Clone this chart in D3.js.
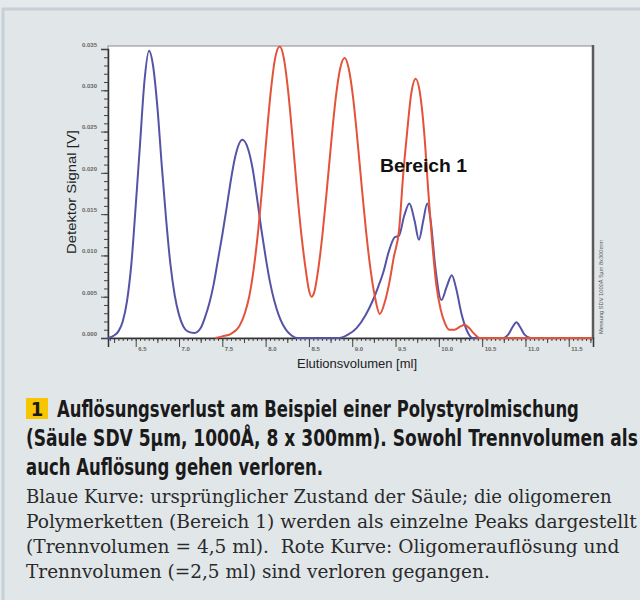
<!DOCTYPE html>
<html>
<head>
<meta charset="utf-8">
<script src="https://cdn.jsdelivr.net/npm/d3@7"></script>
<style>
body { margin: 0; background: #e4e9ec; }
svg { display: block; }
</style>
</head>
<body>
<svg width="640" height="600"></svg>
<script>
// values (elution volume in ml, detector signal in V)
let blueVol = [6.18, 6.25, 6.30, 6.35, 6.40, 6.45, 6.50, 6.55, 6.60, 6.654, 6.70, 6.75, 6.80, 6.85, 6.90, 6.95,
    7.00, 7.05, 7.10, 7.18, 7.25, 7.30, 7.35, 7.40, 7.45, 7.50, 7.55, 7.60, 7.65, 7.732, 7.80, 7.85, 7.90, 7.95,
    8.00, 8.05, 8.10, 8.15, 8.20, 8.25, 8.30, 8.36, 8.85, 8.95, 9.05, 9.15, 9.24, 9.30, 9.36, 9.42, 9.49, 9.54,
    9.60, 9.66, 9.72, 9.77, 9.82, 9.866, 9.91, 9.96, 10.03, 10.09, 10.15, 10.20, 10.26, 10.32, 10.39, 10.75,
    10.80, 10.85, 10.896, 10.94, 10.99, 11.06, 11.78];
let blueSig = [0.0000, 0.0003, 0.0008, 0.0020, 0.0045, 0.0090, 0.0160, 0.0235, 0.0310, 0.0348, 0.0330, 0.0280, 0.0210, 0.0145, 0.0090, 0.0052,
    0.0028, 0.0014, 0.0008, 0.0006, 0.0012, 0.0025, 0.0042, 0.0065, 0.0095, 0.0125, 0.0158, 0.0192, 0.0220, 0.0240, 0.0228, 0.0205, 0.0170, 0.0132,
    0.0098, 0.0068, 0.0045, 0.0028, 0.0016, 0.0008, 0.0003, 0.0000, 0.0000, 0.0004, 0.0012, 0.0027, 0.0046, 0.0062, 0.0080, 0.0104, 0.0122, 0.0124,
    0.0148, 0.0163, 0.0142, 0.0119, 0.0142, 0.0163, 0.0138, 0.0085, 0.0046, 0.0062, 0.0076, 0.0060, 0.0030, 0.0010, 0.0000, 0.0000,
    0.0004, 0.0013, 0.0019, 0.0013, 0.0004, 0.0000, 0.0000];

let redVol = [7.42, 7.50, 7.60, 7.70, 7.76, 7.81, 7.86, 7.91, 7.96, 8.01, 8.06, 8.11, 8.163, 8.21, 8.26, 8.31, 8.36,
    8.41, 8.46, 8.50, 8.53, 8.56, 8.61, 8.66, 8.71, 8.76, 8.81, 8.86, 8.913, 8.96, 9.01, 9.06, 9.11, 9.16, 9.21,
    9.26, 9.318, 9.38, 9.43, 9.48, 9.54, 9.59, 9.63, 9.68, 9.733, 9.78, 9.83, 9.88, 9.92, 9.97, 10.02, 10.07,
    10.12, 10.18, 10.25, 10.30, 10.35, 10.41, 10.47, 11.77];
let redSig = [0.0000, 0.0002, 0.0005, 0.0015, 0.0030, 0.0050, 0.0082, 0.0126, 0.0182, 0.0243, 0.0299, 0.0339, 0.0353, 0.0339, 0.0299, 0.0243, 0.0182,
    0.0128, 0.0085, 0.0058, 0.0050, 0.0055, 0.0085, 0.0129, 0.0183, 0.0240, 0.0291, 0.0326, 0.0339, 0.0326, 0.0291, 0.0240, 0.0183, 0.0129, 0.0084,
    0.0051, 0.0029, 0.0045, 0.0068, 0.0098, 0.0130, 0.0200, 0.0245, 0.0295, 0.0314, 0.0298, 0.0250, 0.0175, 0.0120, 0.0065, 0.0035, 0.0018,
    0.0010, 0.0010, 0.0014, 0.0016, 0.0012, 0.0005, 0.0000, 0.0000];

let xTicks = [6.5, 7.0, 7.5, 8.0, 8.5, 9.0, 9.5, 10.0, 10.5, 11.0, 11.5];
let yTicks = [0.000, 0.005, 0.010, 0.015, 0.020, 0.025, 0.030, 0.035];

let headLines = ["Auflösungsverlust am Beispiel einer Polystyrolmischung",
    "(Säule SDV 5µm, 1000Å, 8 x 300mm). Sowohl Trennvolumen als",
    "auch Auflösung gehen verloren."];
let bodyLines = ["Blaue Kurve: ursprünglicher Zustand der Säule; die oligomeren",
    "Polymerketten (Bereich 1) werden als einzelne Peaks dargestellt",
    "(Trennvolumen = 4,5 ml).  Rote Kurve: Oligomerauflösung und",
    "Trennvolumen (=2,5 ml) sind verloren gegangen."];

let svg = d3.select("svg");
let scale_x = d3.scaleLinear().domain([6.18, 11.78]).range([108, 593]);
let scale_y = d3.scaleLinear().domain([0, 0.035]).range([338, 49]);

// panel
svg.append("rect").attr("x", 3).attr("y", 9).attr("width", 640).attr("height", 600)
    .attr("fill", "#e1e6e9").attr("stroke", "#c6d0d7").attr("stroke-width", 3);

// plot frame
svg.append("rect").attr("x", 108).attr("y", 46).attr("width", 485).attr("height", 292)
    .attr("fill", "white").attr("stroke", "#8a8a8a").attr("stroke-width", 1);
svg.append("line").attr("x1", 593).attr("x2", 593).attr("y1", 45).attr("y2", 339)
    .attr("stroke", "#5a5a5a").attr("stroke-width", 2.5);

// minor ticks
svg.append("g").attr("transform", "translate(0,338)")
    .call(d3.axisBottom(scale_x).tickValues(d3.range(6.2, 11.76, 0.05)).tickSize(3).tickFormat(""))
    .call(g => g.select(".domain").remove());
svg.append("g").attr("transform", "translate(0,338)")
    .call(d3.axisBottom(scale_x).tickValues(d3.range(6.25, 11.76, 0.5)).tickSize(5).tickFormat(""))
    .call(g => g.select(".domain").remove());
svg.append("g").attr("transform", "translate(108,0)")
    .call(d3.axisLeft(scale_y).tickValues(d3.range(0, 0.0355, 0.001)).tickSize(4).tickFormat(""))
    .call(g => g.select(".domain").remove());

// major axes
let xAxis = svg.append("g").attr("transform", "translate(0,338)")
    .call(d3.axisBottom(scale_x).tickValues(xTicks).tickSize(9).tickFormat(d3.format(".1f")));
xAxis.select(".domain").attr("stroke", "#333").attr("stroke-width", 1.5);
xAxis.selectAll("text").attr("text-anchor", "start").attr("x", 2).attr("y", 9)
    .attr("font-size", 6).attr("font-family", "Liberation Sans, Arial").attr("fill", "#666").attr("font-weight", "bold");

let yAxis = svg.append("g").attr("transform", "translate(108,0)")
    .call(d3.axisLeft(scale_y).tickValues(yTicks).tickSize(7).tickFormat(d3.format(".3f")));
yAxis.select(".domain").attr("stroke", "#333").attr("stroke-width", 1.5);
yAxis.selectAll("text").attr("x", -11).attr("dy", "-0.45em")
    .attr("font-size", 6).attr("font-family", "Liberation Sans, Arial").attr("fill", "#666").attr("font-weight", "bold");
svg.selectAll(".tick line").attr("stroke", "#444");

// axis titles
svg.append("text").attr("x", 357).attr("y", 368).attr("text-anchor", "middle")
    .attr("font-family", "Liberation Sans, Arial").attr("font-size", 12).attr("fill", "#222")
    .attr("textLength", 120).attr("lengthAdjust", "spacingAndGlyphs")
    .text("Elutionsvolumen [ml]");
svg.append("text").attr("transform", "translate(76,192) rotate(-90)").attr("text-anchor", "middle")
    .attr("font-family", "Liberation Sans, Arial").attr("font-size", 12).attr("fill", "#222")
    .attr("textLength", 124).attr("lengthAdjust", "spacingAndGlyphs")
    .text("Detektor Signal [V]");
svg.append("text").attr("transform", "translate(603,334) rotate(-90)")
    .attr("font-family", "Liberation Sans, Arial").attr("font-size", 5).attr("fill", "#555")
    .attr("textLength", 94).attr("lengthAdjust", "spacingAndGlyphs")
    .text("Messung SDV 1000Å 5µm 8x300mm");

// curves
let line = d3.line().x(d => scale_x(d[0])).y(d => scale_y(d[1])).curve(d3.curveMonotoneX);
svg.append("path").datum(d3.zip(blueVol, blueSig)).attr("d", line)
    .attr("fill", "none").attr("stroke", "#5553a6").attr("stroke-width", 2);
svg.append("path").datum(d3.zip(redVol, redSig)).attr("d", line)
    .attr("fill", "none").attr("stroke", "#e4523a").attr("stroke-width", 2);

svg.append("text").attr("x", 380).attr("y", 172)
    .attr("font-family", "Liberation Sans, Arial").attr("font-weight", "bold").attr("font-size", 19)
    .attr("fill", "#111").attr("textLength", 87).attr("lengthAdjust", "spacingAndGlyphs")
    .text("Bereich 1");

// caption: squeeze each line horizontally to the width it has in the print
function squeezed(t, x, y, w, font, size, weight, fill) {
    let el = svg.append("text").attr("font-family", font).attr("font-size", size)
        .attr("font-weight", weight).attr("fill", fill).attr("xml:space", "preserve").text(t);
    let natural = el.node().getComputedTextLength();
    el.attr("transform", "translate(" + x + "," + y + ") scale(" + (w / natural) + ",1)");
}

svg.append("rect").attr("x", 26).attr("y", 398).attr("width", 22).attr("height", 21).attr("fill", "#f7c600");
svg.append("text").attr("x", 37).attr("y", 416).attr("text-anchor", "middle")
    .attr("font-family", "DejaVu Sans Condensed, DejaVu Sans").attr("font-weight", "bold").attr("font-size", 20)
    .attr("fill", "#1a1a1a").text("1");
let headX = [57, 26, 26], headW = [522, 612, 297];
headLines.forEach((t, i) => {
    squeezed(t, headX[i], 417 + i * 29, headW[i], "DejaVu Sans Condensed, DejaVu Sans", 23, "bold", "#1a1a1a");
});
let bodyW = [586, 611, 594, 464];
bodyLines.forEach((t, i) => {
    squeezed(t, 26, 503 + i * 25, bodyW[i], "DejaVu Serif Condensed, DejaVu Serif", 19, "normal", "#2a2a2a");
});
</script>
</body>
</html>
